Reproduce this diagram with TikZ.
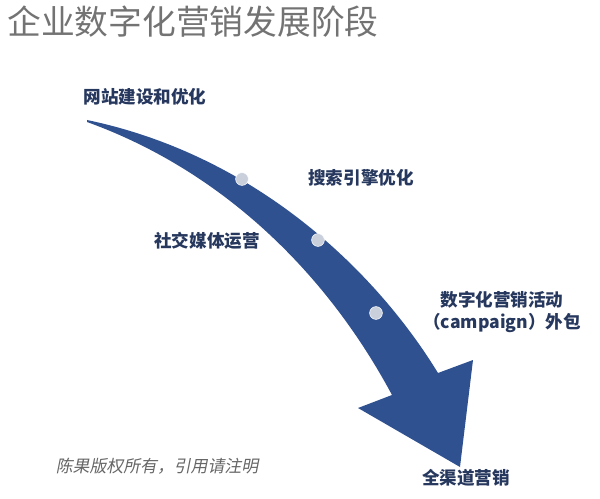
\documentclass[tikz,border=0pt]{standalone}
\usepackage{fontspec}
\setmainfont{Noto Sans CJK SC}
\newfontfamily\cjkslant[FakeSlant=0.2]{Noto Sans CJK SC}
\definecolor{arrowblue}{HTML}{2F5190}
\definecolor{labelnavy}{HTML}{27385E}
\definecolor{dotgray}{HTML}{C9D0DC}
\begin{document}
\begin{tikzpicture}[x=0.025cm, y=-0.025cm]
\tikzstyle{stage}=[text=labelnavy, font=\bfseries\fontsize{12.5}{15}\selectfont, inner sep=0pt]
\tikzstyle{dot}=[circle, fill=dotgray, draw=white, line width=0.4pt, minimum size=3.2mm, inner sep=0pt]
\useasboundingbox (0,0) rectangle (600,499);

\node[anchor=west, text=gray!90!black, font=\fontsize{24}{28}\selectfont, inner sep=0pt] (title) at (7,22) {企业数字化营销发展阶段};

% curved arrow
\fill[arrowblue] (87,120) .. controls (255,155) and (375,270) .. (438,373)
  -- (473,360) -- (460,467) -- (358,408) -- (392,395)
  .. controls (325,270) and (220,170) .. (87,122) -- cycle;

\node[dot] (d1) at (242,179) {};
\node[dot] (d2) at (318,240) {};
\node[dot] (d3) at (376,313) {};

\node[stage] (web) at (145,97) {网站建设和优化};
\node[stage] (seo) at (361,178) {搜索引擎优化};
\node[stage] (sns) at (207,241) {社交媒体运营};
\node[stage, align=center] (camp) at (502,312) {数字化营销活动\\（campaign）外包};
\node[stage] (omni) at (466,478) {全渠道营销};
\node[text=gray!80!black, font=\cjkslant\fontsize{12}{14}\selectfont, inner sep=0pt] (copy) at (157,466) {陈果版权所有，引用请注明};
\end{tikzpicture}
\end{document}
